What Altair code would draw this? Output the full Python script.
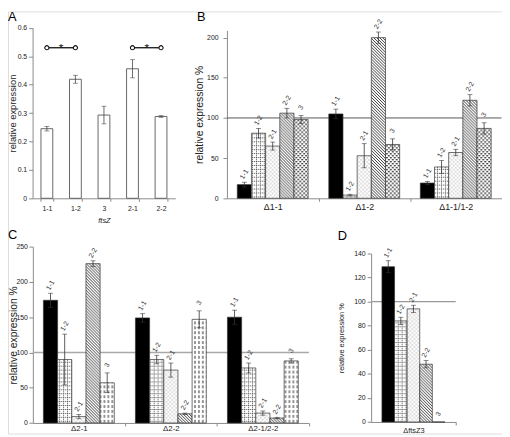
import altair as alt
import pandas as pd

# ---------------- data ----------------
GENES = ["1-1", "1-2", "2-1", "2-2", "3"]

A_CATEGORIES = ["1-1", "1-2", "3", "2-1", "2-2"]
A_VALUES = [0.245, 0.419, 0.293, 0.456, 0.288]
A_ERRORS = [0.008, 0.014, 0.031, 0.032, 0.003]
A_TICKS = [0, 0.1, 0.2, 0.3, 0.4, 0.5, 0.6]
A_SIG_FROM = ["1-1", "2-1"]
A_SIG_TO = ["1-2", "2-2"]
A_SIG_LEVEL = [0.53, 0.53]

B_GROUPS = ["Δ1-1", "Δ1-2", "Δ1-1/1-2"]
B_VALUES = [[17, 81, 65, 106, 98], [105, 4, 53, 200, 67], [19, 39, 57, 122, 87]]
B_ERRORS = [[3, 6, 5, 6, 5], [6, 1, 15, 7, 7], [2, 8, 4, 7, 7]]
B_TICKS = [0, 50, 100, 150, 200]

C_GROUPS = ["Δ2-1", "Δ2-2", "Δ2-1/2-2"]
C_VALUES = [[174, 90, 9, 226, 57], [149, 90, 75, 13, 147], [150, 78, 14, 7, 88]]
C_ERRORS = [[10, 36, 3, 4, 14], [6, 6, 10, 1, 12], [10, 7, 3, 1, 3]]
C_TICKS = [0, 50, 100, 150, 200, 250]

D_GROUPS = ["ΔftsZ3"]
D_VALUES = [[129, 84, 94, 48, 0]]
D_ERRORS = [[5, 3, 3, 3, 0]]
D_TICKS = [0, 20, 40, 60, 80, 100, 120, 140]

REFERENCE = 100

# ---------------- style ----------------
FONT = "Liberation Sans"
TEXT = "#222222"
AX = "#8a8a8a"
W, H = 502, 429

FILLS_B = ["#000000", "url(#pGrid) #dddddd", "url(#pDots) #eeeeee",
           "url(#pDiag) #888888", "url(#pConf) #bbbbbb"]
FILLS_C = ["#000000", "url(#pGrid) #dddddd", "url(#pDots) #eeeeee",
           "url(#pDiag) #888888", "url(#pVdash) #cccccc"]

PATTERN_SVG = (
    '<svg width="0" height="0" style="position:absolute;left:0;top:0" aria-hidden="true"><defs>'
    '<pattern id="pGrid" patternUnits="userSpaceOnUse" width="4" height="4">'
    '<rect width="4" height="4" fill="#fff"/>'
    '<path d="M0 0.5H4M0.5 0V4" stroke="#333" stroke-width="0.7" stroke-dasharray="1.3 0.7"/></pattern>'
    '<pattern id="pDots" patternUnits="userSpaceOnUse" width="4" height="4">'
    '<rect width="4" height="4" fill="#fff"/>'
    '<rect x="0.5" y="0.5" width="0.9" height="0.9" fill="#666"/>'
    '<rect x="2.5" y="2.5" width="0.9" height="0.9" fill="#666"/></pattern>'
    '<pattern id="pDiag" patternUnits="userSpaceOnUse" width="3" height="3">'
    '<rect width="3" height="3" fill="#fff"/>'
    '<path d="M-1 -1L4 4M-1 2L1 4M2 -1L4 1" stroke="#222" stroke-width="0.9"/></pattern>'
    '<pattern id="pConf" patternUnits="userSpaceOnUse" width="4" height="4">'
    '<rect width="4" height="4" fill="#fff"/>'
    '<rect x="0" y="0" width="2" height="1.4" fill="#444"/>'
    '<rect x="2" y="2" width="2" height="1.4" fill="#444"/></pattern>'
    '<pattern id="pVdash" patternUnits="userSpaceOnUse" width="4" height="5">'
    '<rect width="4" height="5" fill="#fff"/>'
    '<path d="M2 0V3" stroke="#111" stroke-width="0.9"/></pattern>'
    '</defs></svg>'
)


def letter_layer(letter, x, y):
    return alt.Chart(pd.DataFrame({"t": [letter]})).mark_text(
        fontSize=13, align="left", baseline="top", color="#000", font=FONT
    ).encode(text="t:N", x=alt.value(x), y=alt.value(y))


def panel_a():
    df = pd.DataFrame({"cat": A_CATEGORIES, "val": A_VALUES, "err": A_ERRORS})
    df["lo"] = df["val"] - df["err"]
    df["hi"] = df["val"] + df["err"]
    x0, x1, yb, yt = 25, 170, 189.9, 16.7
    xs = alt.Scale(domain=A_CATEGORIES, range=[x0, x1], paddingInner=0.586, paddingOuter=0.293)
    ys = alt.Scale(domain=[0, 0.6], range=[yb, yt], nice=False, zero=False)
    x_axis = alt.Axis(orient="bottom", offset=yb - H, title="ftsZ", titleFontStyle="italic",
                      titleFontSize=7.5, titleFontWeight="normal", titleColor=TEXT,
                      titleBaseline="middle", titleY=22.6, labelAngle=0, labelFontSize=7,
                      labelColor=TEXT, labelPadding=3, tickBand="extent", tickSize=3,
                      tickColor=AX, domainColor=AX, labelFont=FONT, titleFont=FONT,
                      grid=False)
    y_axis = alt.Axis(orient="left", offset=-x0, values=A_TICKS,
                      labelExpr="datum.value == 0 ? '0' : format(datum.value, '.1f')",
                      title="relative expression", titleFontSize=9.5, titleFontWeight="normal",
                      titleColor=TEXT, titleAngle=270, titleBaseline="middle", titleX=4.8 - x0,
                      labelFontSize=7, labelColor=TEXT, labelPadding=2, tickSize=4,
                      tickColor=AX, domainColor=AX, grid=False,
                      labelFont=FONT, titleFont=FONT)

    def X(f):
        return alt.X(f, type="nominal", scale=xs, axis=x_axis)

    def Y(f):
        return alt.Y(f, type="quantitative", scale=ys, axis=y_axis)

    base = alt.Chart(df)
    bars = base.mark_bar(fill="white", stroke="#555", strokeWidth=0.9).encode(
        x=X("cat"), y=Y("val"))
    rules = base.mark_rule(color="#444", strokeWidth=0.8).encode(
        x=X("cat"), y=Y("lo"), y2=alt.Y2("hi"))
    cap_hi = base.mark_tick(color="#444", thickness=0.8, size=5, orient="horizontal").encode(
        x=X("cat"), y=Y("hi"))
    cap_lo = base.mark_tick(color="#444", thickness=0.8, size=5, orient="horizontal").encode(
        x=X("cat"), y=Y("lo"))
    sig = pd.DataFrame({"a": A_SIG_FROM, "b": A_SIG_TO, "lvl": A_SIG_LEVEL})
    sig_line = alt.Chart(sig).mark_rule(color="#111", strokeWidth=1.3).encode(
        x=X("a"), x2=alt.X2("b"), y=Y("lvl"))
    sig_pts = alt.Chart(sig).transform_fold(["a", "b"], as_=["end", "cat"]).mark_point(
        shape="circle", size=18, filled=True, fill="white", stroke="#111", strokeWidth=1.1,
        opacity=1).encode(x=X("cat"), y=Y("lvl"))
    sig_star = alt.Chart(sig).mark_text(text="*", fontSize=12, dx=-14.5, dy=0,
                                        baseline="middle", color="#111",
                                        font=FONT).encode(x=X("b"), y=Y("lvl"))
    return alt.layer(bars, rules, cap_hi, cap_lo, sig_line, sig_pts, sig_star,
                     letter_layer("A", 0, 0))


def grouped_panel(groups, values, errors, ticks, fills, letter, lx, ly,
                  x0, x1, pad_outer, y_max, yb, yt, title_size, title_center,
                  xlab_size, xlab_pad, ref_color, ref_width, label_pad):
    rows = []
    for grp, vals, errs in zip(groups, values, errors):
        for gene, v, e in zip(GENES, vals, errs):
            rows.append({"grp": grp, "gene": gene, "val": v, "err": e,
                         "lo": v - e, "hi": v + e})
    df = pd.DataFrame(rows)
    step = (x1 - x0) / len(groups)
    xs = alt.Scale(domain=groups, range=[x0, x1], paddingInner=0, paddingOuter=0)
    xos = alt.Scale(domain=GENES, range=[0, step], paddingInner=0, paddingOuter=pad_outer)
    ys = alt.Scale(domain=[0, y_max], range=[yb, yt], nice=False, zero=False)
    fs = alt.Scale(domain=GENES, range=fills)
    x_axis = alt.Axis(orient="bottom", offset=yb - H, title=None, labelAngle=0,
                      labelFontSize=xlab_size, labelColor=TEXT, labelPadding=xlab_pad,
                      tickOffset=step / 2, labelOffset=-step / 2, tickSize=3,
                      tickColor=AX, domainColor=AX, labelFont=FONT, grid=False)
    y_axis = alt.Axis(orient="left", offset=-x0, values=ticks, title="relative expression %",
                      titleFontSize=title_size, titleFontWeight="normal", titleColor=TEXT,
                      titleAngle=270, titleBaseline="middle", titleX=title_center - x0,
                      labelFontSize=7, labelColor=TEXT, labelPadding=label_pad, tickSize=4,
                      tickColor=AX, domainColor=AX, grid=False,
                      labelFont=FONT, titleFont=FONT)

    def X(f, **kw):
        return alt.X(f, type="nominal", scale=xs, axis=x_axis, **kw)

    def Y(f):
        return alt.Y(f, type="quantitative", scale=ys, axis=y_axis)

    xo = alt.XOffset("gene:N", scale=xos)
    base = alt.Chart(df)
    refdf = pd.DataFrame({"g0": [groups[0]], "g1": [groups[-1]], "ref": [REFERENCE]})
    ref = alt.Chart(refdf).mark_rule(color=ref_color, strokeWidth=ref_width).encode(
        x=X("g0", bandPosition=0), x2=alt.X2("g1", bandPosition=1), y=Y("ref"))
    bars = base.mark_bar(stroke="#333", strokeWidth=0.7).encode(
        x=X("grp"), xOffset=xo, y=Y("val"),
        fill=alt.Fill("gene:N", scale=fs, legend=None))
    eb = base.transform_filter("datum.err > 0")
    rules = eb.mark_rule(color="#333", strokeWidth=0.8).encode(
        x=X("grp"), xOffset=xo, y=Y("lo"), y2=alt.Y2("hi"))
    cap_hi = eb.mark_tick(color="#333", thickness=0.8, size=5, orient="horizontal").encode(
        x=X("grp"), xOffset=xo, y=Y("hi"))
    cap_lo = eb.mark_tick(color="#333", thickness=0.8, size=5, orient="horizontal").encode(
        x=X("grp"), xOffset=xo, y=Y("lo"))
    labels = base.mark_text(angle=300, fontSize=7, color="#333", radius=8,
                            align="center", baseline="middle", font=FONT).encode(
        x=X("grp"), xOffset=xo, y=Y("hi"), text="gene:N")
    return alt.layer(ref, bars, rules, cap_hi, cap_lo, labels, letter_layer(letter, lx, ly))


panel_b = grouped_panel(B_GROUPS, B_VALUES, B_ERRORS, B_TICKS, FILLS_B, "B", 192, 0,
                        222.5, 501.5, 0.729, 209, 189.9, 19.3, 10.5, 195,
                        9, 1.5, "#555555", 1.0, 5)
panel_c = grouped_panel(C_GROUPS, C_VALUES, C_ERRORS, C_TICKS, FILLS_C, "C", 0, 221,
                        25.25, 305.75, 0.746, 250, 418.2, 239.1, 10.5, 5.5,
                        8, -1, "#a8a8a8", 1.6, 1.5)
panel_d = grouped_panel(D_GROUPS, D_VALUES, D_ERRORS, D_TICKS, FILLS_C, "D", 335, 222,
                        369, 455, 0.86, 140, 417.2, 246, 7.5, 339,
                        7.5, 1.5, "#999999", 1.2, 2)

chart = alt.layer(panel_a(), panel_b, panel_c, panel_d).resolve_scale(
    x="independent", y="independent", xOffset="independent", fill="independent"
).resolve_axis(x="independent", y="independent").properties(
    width=W, height=H, padding=0, background="white",
    autosize=alt.AutoSizeParams(type="none")
).configure_view(stroke=None).configure(font=FONT)


def _pattern_template():
    import jinja2
    from altair.utils import html as alt_html
    base_tpl = getattr(alt_html, "HTML_TEMPLATE", None)
    if base_tpl is None:
        base_tpl = alt_html.TEMPLATES["standard"]

    class PatternTemplate(jinja2.Template):
        def render(self, *args, **kwargs):
            page = base_tpl.render(*args, **kwargs)
            if "<body>" in page:
                return page.replace("<body>", "<body>\n" + PATTERN_SVG, 1)
            return page.replace("<div id=", PATTERN_SVG + "<div id=", 1)

    return PatternTemplate("")


try:
    _tpl = _pattern_template()
except Exception:
    _tpl = None

if _tpl is not None:
    try:
        chart.save("out.html", embed_options={"renderer": "svg", "actions": False}, template=_tpl)
    except Exception:
        chart.save("out.html", embed_options={"renderer": "svg", "actions": False})
else:
    chart.save("out.html", embed_options={"renderer": "svg", "actions": False})
